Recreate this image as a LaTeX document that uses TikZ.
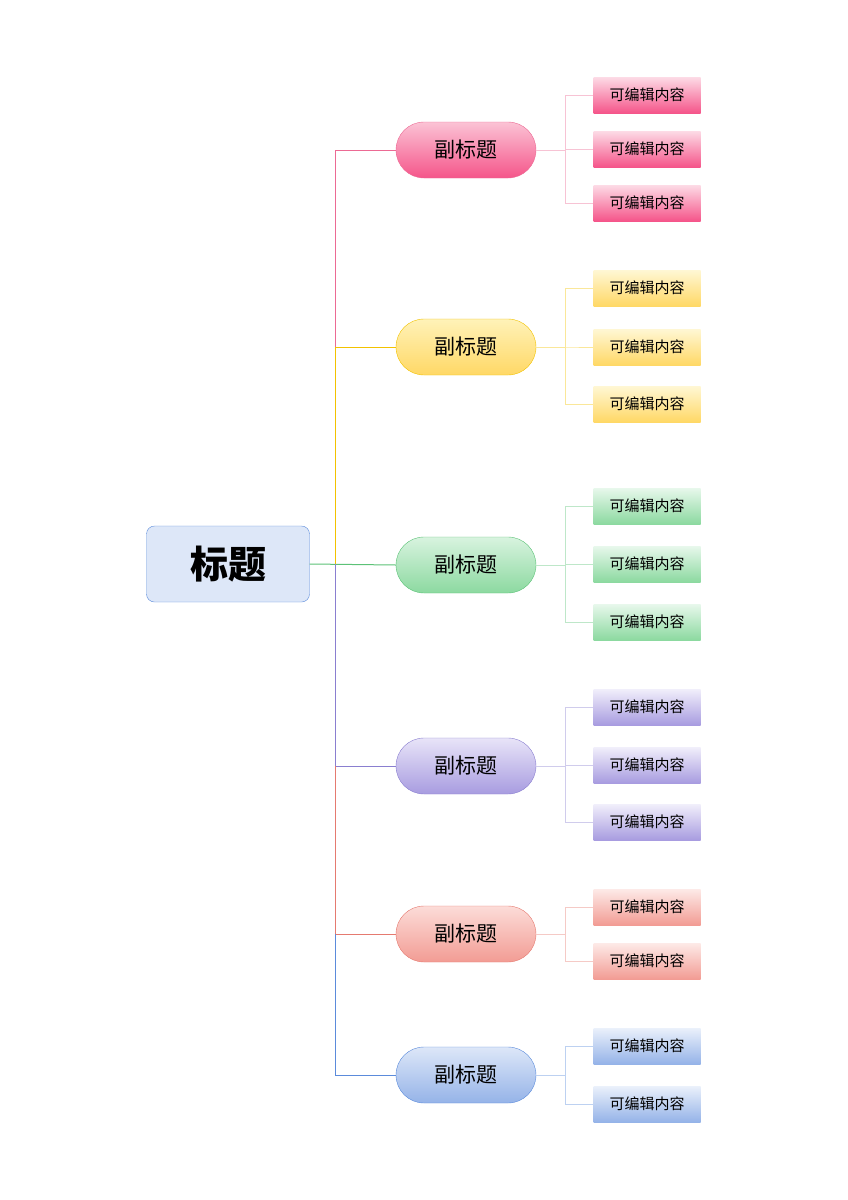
\documentclass[tikz,border=0pt]{standalone}
\usepackage{fontspec}
\setmainfont{Noto Sans CJK SC}
\usepackage{tikz}

\definecolor{pinkB}{HTML}{EC6A94}\definecolor{pinkT}{HTML}{FBC3D5}\definecolor{pinkD}{HTML}{F5558A}
\definecolor{yelB}{HTML}{F2C200}\definecolor{yelT}{HTML}{FFF2B8}\definecolor{yelD}{HTML}{FFD866}
\definecolor{grnB}{HTML}{5CC277}\definecolor{grnT}{HTML}{D8F3DF}\definecolor{grnD}{HTML}{8CD9A0}
\definecolor{purB}{HTML}{8A7FD0}\definecolor{purT}{HTML}{E8E4F8}\definecolor{purD}{HTML}{A89CE0}
\definecolor{redB}{HTML}{E57A70}\definecolor{redT}{HTML}{FCDCD8}\definecolor{redD}{HTML}{F29C94}
\definecolor{bluB}{HTML}{5B8BDB}\definecolor{bluT}{HTML}{DDE7F8}\definecolor{bluD}{HTML}{95B3E8}

\tikzset{
  rootbox/.style={draw=bluB, fill=bluT, rounded corners=8pt, minimum width=163pt,
                  minimum height=76pt, font=\fontsize{38}{40}\selectfont\bfseries},
  subbox/.style={draw=#1B, top color=#1T, bottom color=#1D, rounded corners=28pt,
                 minimum width=140pt, minimum height=56pt, font=\fontsize{21}{23}\selectfont},
  leafbox/.style={top color=#1T!60, bottom color=#1D, minimum width=107pt,
                  minimum height=36pt, font=\fontsize{15}{17}\selectfont},
  trunk/.style={#1B, line width=1pt},
  twig/.style={#1B!40, line width=1pt}
}

\begin{document}
\begin{tikzpicture}[x=1pt, y=-1pt]
\useasboundingbox (0,0) rectangle (848,1200);

% Root
\node[rootbox] (root) at (228,564) {标题};

% Subtitles
\node[subbox=pink] (sub1) at (466,150) {副标题};
\node[subbox=yel] (sub2) at (466,347) {副标题};
\node[subbox=grn] (sub3) at (466,565) {副标题};
\node[subbox=pur] (sub4) at (466,766) {副标题};
\node[subbox=red] (sub5) at (466,934) {副标题};
\node[subbox=blu] (sub6) at (466,1075) {副标题};

% Leaves
\foreach \c/\s/\ys in {pink/1/{95,149,203}, yel/2/{288,347,404}, grn/3/{506,564,622},
                       pur/4/{707,765,822}, red/5/{907,961}, blu/6/{1046,1104}} {
  \foreach \y [count=\i] in \ys {
    \node[leafbox=\c] (leaf\s\i) at (647,\y) {可编辑内容};
    \draw[twig=\c] (sub\s.east) -- ++(29,0) |- (leaf\s\i.west);
  }
}

% Trunk
\coordinate (tr) at (335,564);
\draw[trunk=grn] (root.east) -- (sub3.west);
\draw[trunk=yel] (tr) |- (sub2.west);
\draw[trunk=pink] (tr |- sub2.west) |- (sub1.west);
\draw[trunk=pur] (tr) |- (sub4.west);
\draw[trunk=red] (tr |- sub4.west) |- (sub5.west);
\draw[trunk=blu] (tr |- sub5.west) |- (sub6.west);

\end{tikzpicture}
\end{document}
